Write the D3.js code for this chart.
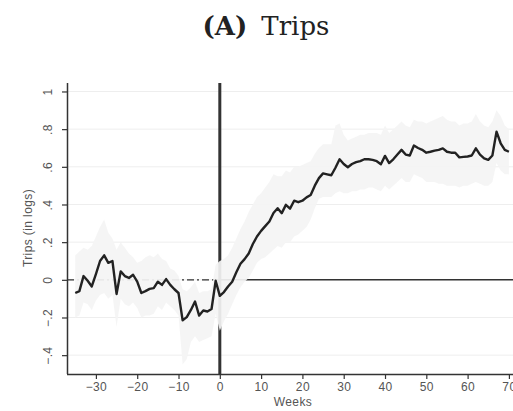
<!doctype html>
<html>
  <head>
    <meta charset="utf-8">
    <title>Trips</title>
    <script src="https://cdnjs.cloudflare.com/ajax/libs/d3/7.8.5/d3.min.js"></script>
    <style>
      body { margin: 0; background: #fff; }
      .tick text { font-family: "Liberation Sans", Arial, sans-serif; fill: #555; letter-spacing: 0.4px; }
    </style>
  </head>
  <body>
    <div id="chart"></div>
    <script>
      // weeks relative to the event
      const weeks = d3.range(-35, 71);

      // point estimate, one per week
      const trips = [
        -0.07, -0.06, 0.02, -0.005, -0.035, 0.03, 0.10, 0.13, 0.09, 0.10,
        -0.075, 0.045, 0.02, 0.01, 0.027, -0.01, -0.07, -0.06, -0.048, -0.044,
        -0.01, -0.027, 0.004, -0.027, -0.05, -0.07, -0.215, -0.198, -0.16, -0.115,
        -0.19, -0.163, -0.168, -0.155, -0.005, -0.085, -0.065, -0.035, -0.01, 0.04,
        0.085, 0.11, 0.14, 0.19, 0.23, 0.26, 0.285, 0.31, 0.355, 0.38,
        0.354, 0.398, 0.378, 0.42, 0.412, 0.42, 0.438, 0.45, 0.50, 0.54,
        0.565, 0.56, 0.555, 0.595, 0.64, 0.615, 0.598, 0.615, 0.625, 0.63,
        0.64, 0.64, 0.637, 0.63, 0.614, 0.658, 0.62, 0.64, 0.665, 0.69,
        0.665, 0.66, 0.713, 0.70, 0.69, 0.675, 0.68, 0.686, 0.69, 0.698,
        0.68, 0.675, 0.675, 0.65, 0.653, 0.655, 0.66, 0.698, 0.665, 0.645,
        0.637, 0.66, 0.787, 0.725, 0.69, 0.68
      ];

      // confidence band
      const upper = [
        0.13, 0.15, 0.17, 0.16, 0.18, 0.23, 0.28, 0.32, 0.25, 0.22,
        0.16, 0.20, 0.17, 0.14, 0.12, 0.09, 0.10, 0.12, 0.13, 0.12,
        0.14, 0.11, 0.10, 0.06, 0.05, 0.02, -0.05, -0.06, -0.04, -0.01,
        -0.07, -0.06, -0.06, -0.05, 0.08, 0.10, 0.11, 0.13, 0.17, 0.22,
        0.27, 0.31, 0.36, 0.40, 0.44, 0.46, 0.49, 0.52, 0.56, 0.55,
        0.55, 0.58, 0.57, 0.60, 0.60, 0.61, 0.62, 0.63, 0.67, 0.70,
        0.72, 0.72, 0.72, 0.82, 0.83, 0.77, 0.74, 0.75, 0.76, 0.77,
        0.77, 0.78, 0.78, 0.78, 0.77, 0.82, 0.78, 0.80, 0.82, 0.84,
        0.82, 0.81, 0.85, 0.84, 0.84, 0.83, 0.84, 0.85, 0.86, 0.87,
        0.85, 0.84, 0.84, 0.82, 0.83, 0.83, 0.84, 0.88, 0.84, 0.82,
        0.81, 0.84, 0.90, 0.87, 0.82, 0.80
      ];
      const lower = [
        -0.20, -0.19, -0.12, -0.13, -0.16, -0.11, -0.08, -0.07, -0.10, -0.08,
        -0.25, -0.10, -0.13, -0.14, -0.12, -0.15, -0.20, -0.19, -0.19, -0.18,
        -0.14, -0.16, -0.12, -0.14, -0.16, -0.19, -0.45, -0.42, -0.33, -0.30,
        -0.33, -0.32, -0.31, -0.30, -0.18, -0.27, -0.22, -0.18, -0.13, -0.08,
        -0.04, -0.01, 0.01, 0.05, 0.09, 0.11, 0.12, 0.14, 0.16, 0.18,
        0.17, 0.20, 0.20, 0.23, 0.24, 0.26, 0.28, 0.32, 0.38, 0.43,
        0.44, 0.44, 0.44, 0.46, 0.47, 0.46, 0.46, 0.47, 0.47, 0.48,
        0.48, 0.49, 0.49, 0.48, 0.47, 0.50, 0.48, 0.50, 0.52, 0.54,
        0.52, 0.52, 0.56, 0.55, 0.54, 0.52, 0.52, 0.52, 0.51, 0.51,
        0.50, 0.50, 0.50, 0.49, 0.50, 0.50, 0.51, 0.52, 0.51, 0.50,
        0.50, 0.52, 0.62, 0.58, 0.56, 0.56
      ];

      const xTicks = [-30, -20, -10, 0, 10, 20, 30, 40, 50, 60, 70];
      const yTicks = [-0.4, -0.2, 0, 0.2, 0.4, 0.6, 0.8, 1];

      const data = weeks.map((w, i) => ({ w: w, y: trips[i], lo: lower[i], hi: upper[i] }));

      const width = 513, height = 411;
      const plotLeft = 67, plotTop = 83, plotBottom = 374;

      const x = d3.scaleLinear().domain([-37, 73]).range([plotLeft, plotLeft + 110 * 4.13]);
      const y = d3.scaleLinear().domain([-0.5, 1.045]).range([plotBottom, plotTop]);

      const svg = d3.select('#chart')
        .append('svg')
        .attr('width', width)
        .attr('height', height);

      // title
      const title = svg.append('text')
        .attr('x', 266)
        .attr('y', 35)
        .attr('text-anchor', 'middle')
        .style('font-family', '"DejaVu Serif", serif')
        .style('font-size', '26px')
        .style('fill', '#222');
      title.append('tspan').style('font-weight', 'bold').text('(A)');
      title.append('tspan').attr('dx', 14).text('Trips');

      // grid
      svg.append('g')
        .selectAll('line')
        .data(yTicks)
        .join('line')
        .attr('x1', plotLeft)
        .attr('x2', width)
        .attr('y1', d => y(d))
        .attr('y2', d => y(d))
        .style('stroke', '#eeeeee')
        .style('stroke-width', 1);

      // reference lines
      svg.append('line')
        .attr('x1', x(-37)).attr('x2', x(0))
        .attr('y1', y(0)).attr('y2', y(0))
        .style('stroke', '#333')
        .style('stroke-width', 1.2)
        .style('stroke-dasharray', '7,3,2,3');
      svg.append('line')
        .attr('x1', x(0)).attr('x2', width)
        .attr('y1', y(0)).attr('y2', y(0))
        .style('stroke', '#333')
        .style('stroke-width', 1.5);
      svg.append('line')
        .attr('x1', x(0)).attr('x2', x(0))
        .attr('y1', plotTop).attr('y2', plotBottom)
        .style('stroke', '#333')
        .style('stroke-width', 3);

      // band
      svg.append('path')
        .datum(data)
        .attr('d', d3.area().x(d => x(d.w)).y0(d => y(d.lo)).y1(d => y(d.hi)))
        .style('fill', '#f4f4f4')
        .style('opacity', 0.92);

      // estimate
      svg.append('path')
        .datum(data)
        .attr('d', d3.line().x(d => x(d.w)).y(d => y(d.y)))
        .style('fill', 'none')
        .style('stroke', '#222')
        .style('stroke-width', 2.4)
        .style('stroke-linejoin', 'round');

      // axes
      const fmtY = d => d === 0 ? '0' : d === 1 ? '1' : (d < 0 ? '\u2212' : '') + d3.format('.1f')(Math.abs(d)).replace(/^0/, '');
      const fmtX = d => (d < 0 ? '\u2212' : '') + Math.abs(d);

      const xAxis = svg.append('g')
        .attr('transform', `translate(0,${plotBottom})`)
        .call(d3.axisBottom(x).tickValues(xTicks).tickFormat(fmtX).tickSize(5).tickSizeOuter(0));
      xAxis.select('.domain').attr('d', `M${plotLeft},0.5H${width}`);

      const yAxis = svg.append('g')
        .attr('transform', `translate(${plotLeft},0)`)
        .call(d3.axisLeft(y).tickValues(yTicks).tickFormat(fmtY).tickSize(5).tickSizeOuter(0));
      yAxis.select('.domain').attr('d', `M0.5,${plotTop}V${plotBottom}`);

      svg.selectAll('.domain').style('stroke', '#333').style('stroke-width', 1.5);
      svg.selectAll('.tick line').style('stroke', '#333').style('stroke-width', 1.2);
      xAxis.selectAll('.tick text').style('font-size', '12px').attr('y', 8).attr('dy', '0.75em');
      yAxis.selectAll('.tick text')
        .style('font-size', '12px')
        .attr('text-anchor', 'middle')
        .attr('x', null)
        .attr('dy', null)
        .attr('transform', 'translate(-19,0) rotate(-90)')
        .attr('y', 4);

      // axis titles
      svg.append('text')
        .attr('x', 293)
        .attr('y', 406)
        .attr('text-anchor', 'middle')
        .style('font-family', '"Liberation Sans", Arial, sans-serif')
        .style('font-size', '12px')
        .style('letter-spacing', '0.4px')
        .style('fill', '#555')
        .text('Weeks');
      svg.append('text')
        .attr('transform', 'translate(32,228) rotate(-90)')
        .attr('text-anchor', 'middle')
        .style('font-family', '"Liberation Sans", Arial, sans-serif')
        .style('font-size', '12px')
        .style('letter-spacing', '0.4px')
        .style('fill', '#555')
        .text('Trips (in logs)');
    </script>
  </body>
</html>
